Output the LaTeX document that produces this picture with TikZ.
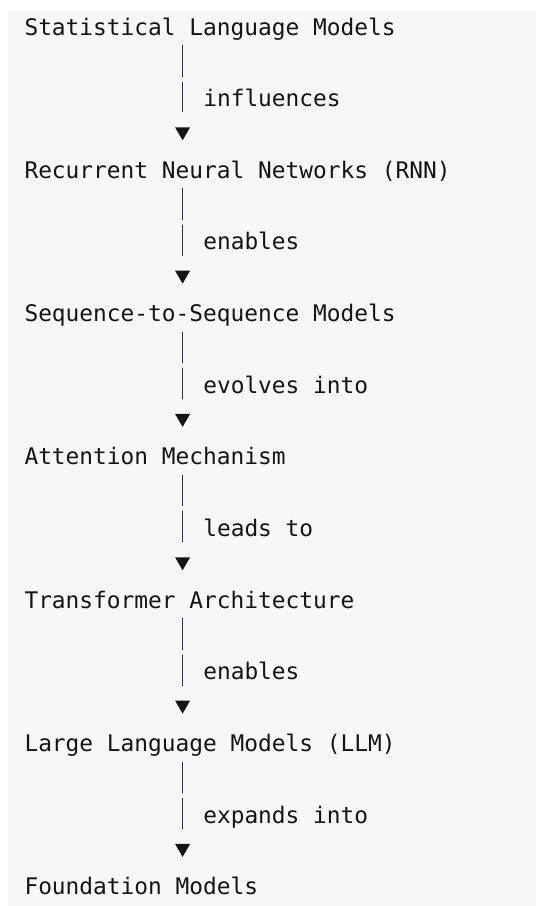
\documentclass[tikz,border=0pt]{standalone}
\usepackage{fontspec}
\newfontfamily\monofont{DejaVu Sans Mono}
\usetikzlibrary{calc}
\definecolor{panel}{HTML}{F7F7F7}
\definecolor{ink}{HTML}{141414}
\definecolor{barc}{HTML}{2B3340}
\begin{document}
\begin{tikzpicture}[x=1pt,y=-1pt,
  concept/.style={anchor=base west,inner sep=0pt,outer sep=0pt,text=ink,font=\monofont\fontsize{22.84}{27}\selectfont},
  elabel/.style={concept},
  barline/.style={draw=barc,line width=1.4pt},
  tri/.style={fill=ink}]
\useasboundingbox (0,0) rectangle (536,906);
\fill[white] (0,0) rectangle (536,906);
\fill[panel] (8,10) rectangle (536,906);
\def\cw{13.75}
\def\rs{35.83}
\def\bx{158.1}
\node[concept] (n1) at (24.5,35) {Statistical Language Models};
\node[concept] (n2) at (24.5,{35+4*\rs}) {Recurrent Neural Networks (RNN)};
\node[concept] (n3) at (24.5,{35+8*\rs}) {Sequence-to-Sequence Models};
\node[concept] (n4) at (24.5,{35+12*\rs}) {Attention Mechanism};
\node[concept] (n5) at (24.5,{35+16*\rs}) {Transformer Architecture};
\node[concept] (n6) at (24.5,{35+20*\rs}) {Large Language Models (LLM)};
\node[concept] (n7) at (24.5,{35+24*\rs}) {Foundation Models};
\foreach \a/\b/\lab [count=\i] in {n1/n2/influences,n2/n3/enables,n3/n4/evolves into,n4/n5/leads to,n5/n6/enables,n6/n7/expands into}{
  \coordinate (c\i) at ($(\a.base west)+(\bx,0)$);
  \node[elabel] (l\i) at ($(\a.base west)+(13*\cw,2*\rs)$) {\lab};
  \draw[barline] ($(c\i)+(0,10)$) -- ($(c\i)+(0,41.5)$);
  \draw[barline] ($(c\i)+(0,46.5)$) -- ($(\b.base west)+(\bx,-66)$);
  \fill[tri] ($(\b.base west)+(\bx-7.5,-51)$) -- ++(15,0) -- ++(-7.5,13) -- cycle;
}
\end{tikzpicture}
\end{document}
